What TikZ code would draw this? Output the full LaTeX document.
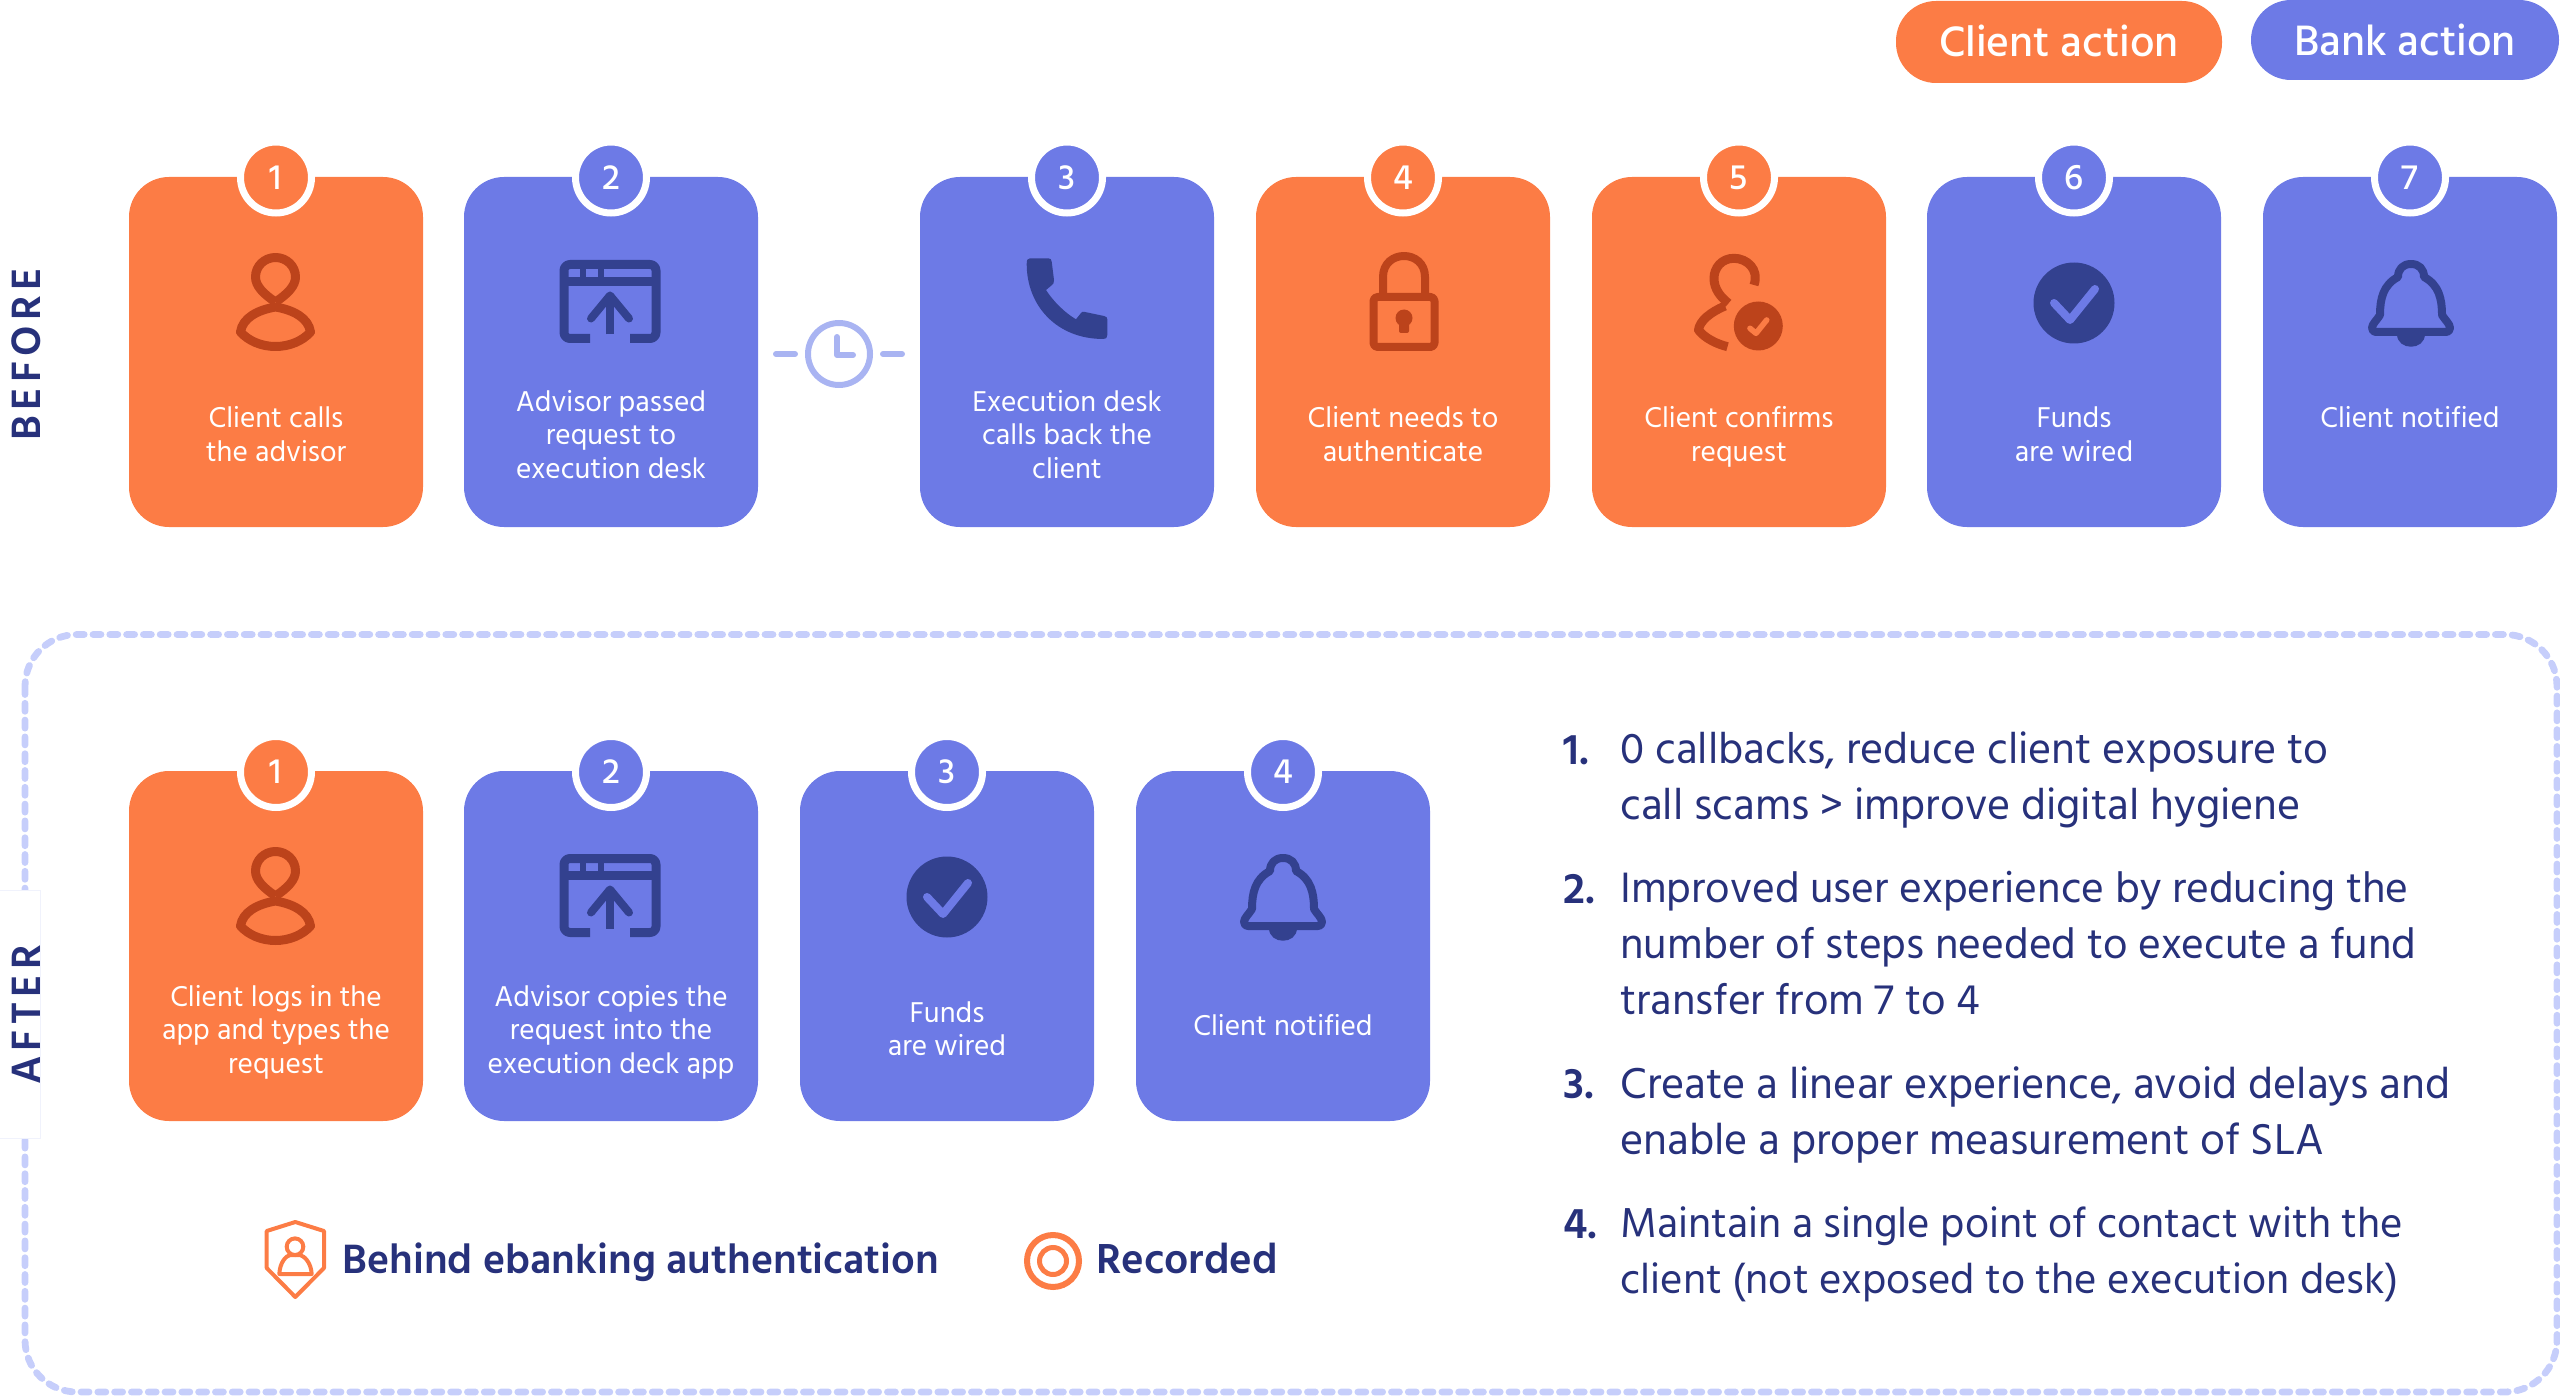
\documentclass[tikz,border=0pt]{standalone}
\usepackage{fontspec}
\setmainfont{Hind Madurai}
\newfontfamily\medfont{Hind Madurai Medium}
\newfontfamily\sidefont[LetterSpace=13]{Hind Madurai SemiBold}
\newfontfamily\semifont{Hind Madurai SemiBold}
\definecolor{clientfill}{HTML}{FC7C45}
\definecolor{bankfill}{HTML}{6D7AE6}
\definecolor{clientdark}{HTML}{BC431B}
\definecolor{bankdark}{HTML}{33418F}
\definecolor{inktext}{HTML}{27317B}
\definecolor{waitline}{HTML}{A9B4F2}
\definecolor{dashline}{HTML}{C6CEFB}
\tikzset{
  cardbox/.style={rectangle,rounded corners=20pt,minimum width=147pt,minimum height=175pt,inner sep=0pt},
  clientcard/.style={cardbox,fill=clientfill},
  bankcard/.style={cardbox,fill=bankfill},
  badge/.style={circle,draw=white,line width=3.5pt,minimum size=35.5pt,inner sep=0pt,text=white,font=\fontsize{18}{20}\medfont},
  clientbadge/.style={badge,fill=clientfill},
  bankbadge/.style={badge,fill=bankfill},
  cardtext/.style={inner sep=0pt,anchor=base,text=white,align=center,font=\fontsize{14.7}{16.7}\selectfont},
  pill/.style={rectangle,rounded corners=20pt,inner sep=0pt,minimum height=41pt,text=white,font=\fontsize{21.8}{24}\medfont},
  sidetext/.style={inner sep=0pt,rotate=90,text=inktext,font=\fontsize{21}{24}\sidefont},
  itemnum/.style={inner sep=0pt,anchor=base west,text=inktext,font=\fontsize{22}{28}\semifont},
  itemtext/.style={inner sep=0pt,anchor=base west,align=left,text=inktext,font=\fontsize{21.8}{27.9}\selectfont},
  legendtext/.style={inner sep=0pt,anchor=base west,text=inktext,font=\fontsize{21}{24}\semifont},
  waitstroke/.style={waitline,line width=3pt,line cap=round,line join=round},
  clientstroke/.style={clientdark,line width=4.5pt,line join=round},
  bankstroke/.style={bankdark,line width=4.5pt,line join=round},
  personicon/.pic={
    \draw[clientstroke] (0,0) .. controls (-12,-8) and (-20,-16) .. (-20,-25) .. controls (-20,-36) and (-11,-44.5) .. (0,-44.5) .. controls (11,-44.5) and (20,-36) .. (20,-25) .. controls (20,-16) and (12,-8) .. (0,0);
    \draw[clientstroke] (0,5) .. controls (-18,8) and (-33,16) .. (-35,30) .. controls (-27,39) and (-14,44.5) .. (0,44.5) .. controls (14,44.5) and (27,39) .. (35,30) .. controls (33,16) and (18,8) .. (0,5) -- cycle;
  },
  windowicon/.pic={
    \draw[bankstroke,rounded corners=3pt] (-20,37) -- (-46,37) -- (-46,-37) -- (46,-37) -- (46,37) -- (20,37);
    \draw[bankstroke] (-46,-20) -- (46,-20);
    \draw[bankstroke,line width=3pt] (-27,-37) -- (-27,-20);
    \draw[bankstroke,line width=3pt] (-9,-37) -- (-9,-20);
    \draw[bankstroke,line width=4pt] (0,33) -- (0,-6);
    \draw[bankstroke,line width=4pt,line cap=round] (-19,17) -- (0,-6) -- (19,17);
  },
  phoneicon/.pic={
    \fill[bankdark] (-37,-42.7) -- (-18.7,-42.7) .. controls (-16.5,-42.7) and (-15.5,-41.5) .. (-15.3,-39.3) -- (-13,-21) .. controls (-12.8,-18) and (-14,-17) .. (-15,-16) -- (-21,-11) .. controls (-14,0) and (-2,12) .. (9,18.3) -- (14,12) .. controls (15,10.5) and (16,10.5) .. (18,11) -- (37,15) .. controls (39.5,15.5) and (40.3,16.5) .. (40.3,18.3) -- (40.3,34) .. controls (40.3,37) and (39,38) .. (36.3,38) .. controls (-10,38) and (-40.3,5) .. (-40.3,-37) .. controls (-40.3,-41) and (-39.5,-42.7) .. (-37,-42.7) -- cycle;
  },
  lockicon/.pic={
    \draw[clientstroke,line width=4pt,rounded corners=2pt] (-30.5,-4) rectangle (30.5,46);
    \draw[clientstroke,line width=4pt] (-21,-6) -- (-21,-24) .. controls (-21,-52) and (21,-52) .. (21,-24) -- (21,-6);
    \fill[clientdark] (0,17) circle (8.5);
    \fill[clientdark,rounded corners=1pt] (-5,17) rectangle (5,32);
  },
  confirmicon/.pic={
    \draw[clientstroke] (15.5,-16) .. controls (21,-32) and (8,-42.7) .. (-4.5,-42.7) .. controls (-17,-42.7) and (-24.5,-33) .. (-24.5,-22.7) .. controls (-24.5,-12) and (-18,-4) .. (-10,2.3);
    \draw[clientstroke] (-13.5,5) .. controls (-28,11) and (-39,20) .. (-40,29) .. controls (-34,37) and (-22,43) .. (-11,45.7);
    \fill[clientdark] (19.8,25) circle (24.5);
    \draw[clientfill,line width=2.8pt,line cap=round,line join=round] (11.5,27.3) -- (17.5,32.3) -- (28.2,19);
  },
  checkicon/.pic={
    \fill[bankdark] (0,2) circle (40.5);
    \draw[bankfill,line width=4pt,line cap=round,line join=round] (-20,2) -- (-4,19) -- (21,-12);
  },
  bellicon/.pic={
    \draw[bankstroke,line width=4pt] (0,-37) .. controls (-8,-37) and (-13,-32) .. (-13,-24) .. controls (-28,-16) and (-31,-2) .. (-31,14) .. controls (-34,19) and (-39,23) .. (-39,27) .. controls (-39,30) and (-37,31) .. (-35,31) -- (35,31) .. controls (37,31) and (39,30) .. (39,27) .. controls (39,23) and (34,19) .. (31,14) .. controls (31,-2) and (28,-16) .. (13,-24) .. controls (13,-32) and (8,-37) .. (0,-37) -- cycle;
    \fill[bankdark] (-14,33) .. controls (-14,50) and (14,50) .. (14,33) -- cycle;
  }
}

\begin{document}
\begin{tikzpicture}[x=0.5pt,y=-0.5pt]
\useasboundingbox (0,0) rectangle (2560,1396);
% Legend
\node[pill,fill=clientfill,minimum width=163pt] (pillclient) at (2059,42) {\raisebox{1pt}{Client action}};
\node[pill,fill=bankfill,minimum width=154pt,minimum height=40pt] (pillbank) at (2405,40) {Bank action};
% Before
\node[sidetext] (sidebefore) at (26,354.5) {BEFORE};
\node[clientcard] (card1) at (276,352) {};
\node[bankcard] (card2) at (611,352) {};
\node[bankcard] (card3) at (1067,352) {};
\node[clientcard] (card4) at (1403,352) {};
\node[clientcard] (card5) at (1739,352) {};
\node[bankcard] (card6) at (2074,352) {};
\node[bankcard] (card7) at (2410,352) {};
\node[clientbadge] (badge1) at (276,177.5) {1};
\node[bankbadge] (badge2) at (611,177.5) {2};
\node[bankbadge] (badge3) at (1067,177.5) {3};
\node[clientbadge] (badge4) at (1403,177.5) {4};
\node[clientbadge] (badge5) at (1739,177.5) {5};
\node[bankbadge] (badge6) at (2074,177.5) {6};
\node[bankbadge] (badge7) at (2410,177.5) {7};
\pic at (275.5,302) {personicon};
\pic at (610,301.5) {windowicon};
\pic at (1067,301) {phoneicon};
\pic at (1404,301) {lockicon};
\pic at (1738.5,301) {confirmicon};
\pic at (2074,301) {checkicon};
\pic at (2411,301) {bellicon};
\node[cardtext] (text1) at (276,461) {Client calls\\the advisor};
\node[cardtext] (text2) at (611,478) {Advisor passed\\request to\\execution desk};
\node[cardtext] (text3) at (1067,478) {Execution desk\\calls back the\\client};
\node[cardtext] (text4) at (1403,461) {Client needs to\\authenticate};
\node[cardtext] (text5) at (1739,461) {Client confirms\\request};
\node[cardtext] (text6) at (2074,461) {Funds\\are wired};
\node[cardtext] (text7) at (2410,427) {Client notified};
% Wait between 2 and 3
\node[circle,draw=waitline,line width=3pt,minimum size=31pt,inner sep=0pt] (clock) at (839,354) {};
\coordinate (waitleft) at (776,354);
\coordinate (waitright) at (902,354);
\draw[waitstroke,shorten >=5pt] (waitleft) -- (clock);
\draw[waitstroke,shorten <=5pt] (clock) -- (waitright);
\draw[waitstroke] (837,337) -- (837,355) -- (853,355);
% After
\draw[dashline,line width=3.4pt,line cap=round,dash pattern=on 4pt off 4.4pt,rounded corners=26pt] (25,634.5) rectangle (2557,1392);
\node[fill=white,draw=bankfill!10,line width=0.5pt,minimum width=27pt,minimum height=124pt,inner sep=0pt] (sideboxafter) at (13,1014) {};
\node[sidetext] (sideafter) at (26,1015) {AFTER};
\begin{scope}[yshift=-297pt]
\node[clientcard] (after1) at (276,352) {};
\node[bankcard] (after2) at (611,352) {};
\node[bankcard] (after3) at (947,352) {};
\node[bankcard] (after4) at (1283,352) {};
\node[clientbadge] (afterbadge1) at (276,178) {1};
\node[bankbadge] (afterbadge2) at (611,178) {2};
\node[bankbadge] (afterbadge3) at (947,178) {3};
\node[bankbadge] (afterbadge4) at (1283,178) {4};
\pic at (275.5,302) {personicon};
\pic at (610,301.5) {windowicon};
\pic at (947,301) {checkicon};
\pic at (1283,301) {bellicon};
\node[cardtext] (aftertext1) at (276,479) {Client logs in the\\app and types the\\request};
\node[cardtext] (aftertext2) at (611,479) {Advisor copies the\\request into the\\execution deck app};
\node[cardtext] (aftertext3) at (947,461.5) {Funds\\are wired};
\node[cardtext] (aftertext4) at (1283,441.5) {Client notified};
\end{scope}
% Shield and record
\draw[clientfill,line width=2pt,line join=round] (295.3,1222) -- (324,1231) -- (324,1268) -- (295.3,1297) -- (266.7,1268) -- (266.7,1231) -- cycle;
\draw[clientfill,line width=2pt] (295,1246.7) circle (8.3);
\draw[clientfill,line width=2pt,line join=round] (279.3,1274) .. controls (280,1262) and (286,1256) .. (290,1255) -- (300,1255) .. controls (304,1256) and (311,1262) .. (311.7,1274) -- cycle;
\node[legendtext] (legendauth) at (342,1273) {Behind ebanking authentication};
\node[circle,draw=clientfill,line width=3pt,minimum size=26pt,inner sep=0pt] (recordouter) at (1053,1261) {};
\node[circle,draw=clientfill,line width=2.5pt,minimum size=13.5pt,inner sep=0pt] (recordinner) at (1053,1261) {};
\node[legendtext,font=\fontsize{21.5}{24}\semifont] (legendrecord) at (1096,1273) {Recorded};
% Numbered list
\node[itemnum] (num1) at (1563,764) {1.};
\node[itemtext,font=\fontsize{22.1}{27.9}\selectfont] (item1) at (1620,819) {0 callbacks, reduce client exposure to\\call scams > improve digital hygiene};
\node[itemnum] (num2) at (1563,903) {2.};
\node[itemtext] (item2) at (1620,1014) {Improved user experience by reducing the\\number of steps needed to execute a fund\\transfer from 7 to 4};
\node[itemnum] (num3) at (1563,1098) {3.};
\node[itemtext,font=\fontsize{22.15}{27.9}\selectfont] (item3) at (1620,1154) {Create a linear experience, avoid delays and\\enable a proper measurement of SLA};
\node[itemnum] (num4) at (1563,1238) {4.};
\node[itemtext,font=\fontsize{21.45}{27.9}\selectfont] (item4) at (1620,1293) {Maintain a single point of contact with the\\client (not exposed to the execution desk)};
\end{tikzpicture}
\end{document}
